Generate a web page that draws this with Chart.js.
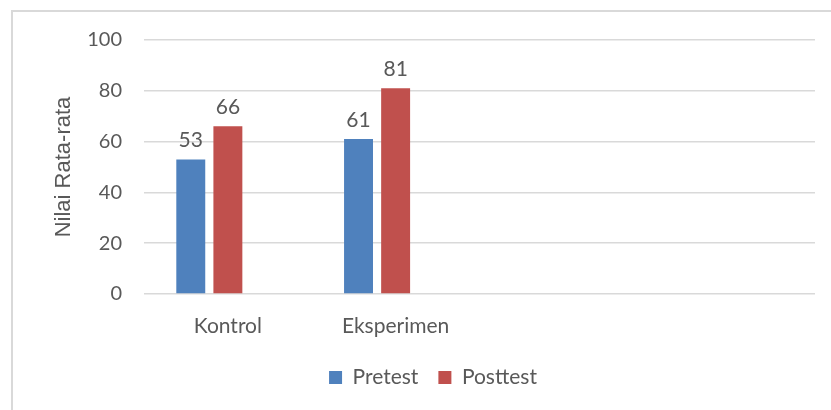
<!DOCTYPE html>
<html>
<head>
<meta charset="utf-8">
<script src="https://cdn.jsdelivr.net/npm/chart.js@4"></script>
<style>
  body { margin: 0; background: #fff; }
  #wrap { position: relative; width: 831px; height: 410px; }
  #bingkai {
    position: absolute; left: 11px; top: 10px; width: 900px; height: 500px;
    border-left: 2px solid #d9d9d9; border-top: 2px solid #d9d9d9;
  }
  canvas { position: absolute; left: 0; top: 0; }
</style>
</head>
<body>
<div id="wrap">
  <div id="bingkai"></div>
  <canvas id="grafikNilai" width="831" height="410"></canvas>
</div>
<script>
// data
var kelompok = ["Kontrol", "Eksperimen", "", ""];
var pretest = [53, 61, null, null];
var posttest = [66, 81, null, null];
var kosong = [null, null, null, null]; // seri ketiga kosong di excel
var tickY = [0, 20, 40, 60, 80, 100];

var abu = "#595959";

// tulis angka di atas batang
var labelNilai = {
  id: "labelNilai",
  afterDatasetsDraw: function (chart) {
    var ctx = chart.ctx;
    ctx.save();
    ctx.font = "21px Lato";
    ctx.fillStyle = abu;
    ctx.textAlign = "center";
    ctx.textBaseline = "alphabetic";
    chart.data.datasets.forEach(function (ds, i) {
      var meta = chart.getDatasetMeta(i);
      meta.data.forEach(function (bar, j) {
        if (ds.data[j] == null) return;
        ctx.fillText(ds.data[j], bar.x, bar.y - 12);
      });
    });
    ctx.restore();
  }
};

const configNilai = {
  type: "bar",
  data: {
    labels: kelompok,
    datasets: [
      {
        label: "Pretest",
        data: pretest,
        backgroundColor: "#4f81bd",
        categoryPercentage: 0.6635,
        barPercentage: 0.78,
      },
      {
        label: "Posttest",
        data: posttest,
        backgroundColor: "#c0504d",
        categoryPercentage: 0.6635,
        barPercentage: 0.78,
      },
      {
        label: "",
        data: kosong,
        backgroundColor: "#9bbb59",
        categoryPercentage: 0.6635,
        barPercentage: 0.78,
      },
    ],
  },
  options: {
    responsive: false,
    animation: false,
    layout: { padding: { left: 51, right: 16, top: 40, bottom: 12 } },
    plugins: {
      tooltip: { enabled: false },
      legend: {
        position: "bottom",
        labels: {
          filter: function (item) { return item.text != ""; },
          boxWidth: 13,
          boxHeight: 13,
          padding: 20,
          color: abu,
          font: { family: "Lato", size: 21 },
        },
      },
    },
    scales: {
      x: {
        afterFit: function (axis) { axis.height = 53; },
        grid: { display: false },
        border: { display: false },
        ticks: {
          color: abu,
          padding: 12,
          font: { family: "Lato", size: 21 },
        },
      },
      y: {
        min: 0,
        max: 100,
        afterBuildTicks: function (axis) {
          axis.ticks = tickY.map(function (v) { return { value: v }; });
        },
        afterFit: function (axis) { axis.width = 93; },
        grid: { color: "#d9d9d9", lineWidth: 1.5, drawTicks: false },
        border: { display: false },
        ticks: {
          color: abu,
          padding: 22,
          font: { family: "Lato", size: 20 },
        },
        title: {
          display: true,
          text: "Nilai Rata-rata",
          color: abu,
          padding: 0,
          font: { family: "Liberation Sans", size: 22 },
        },
      },
    },
  },
  plugins: [labelNilai],
};

var grafikNilai = new Chart(document.getElementById("grafikNilai"), configNilai);
</script>
</body>
</html>
